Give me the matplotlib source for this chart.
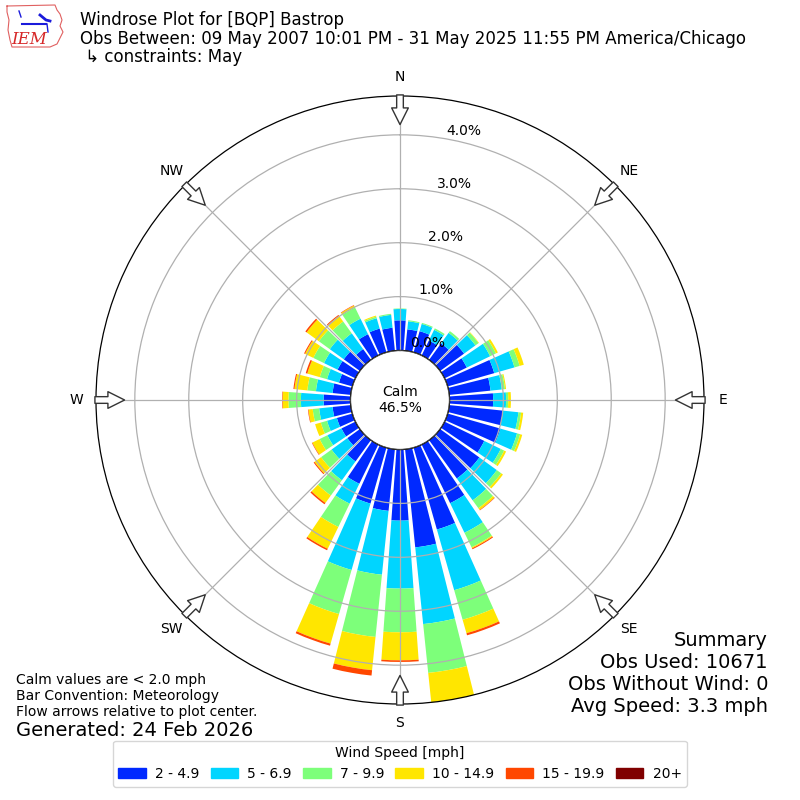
import numpy as np
import matplotlib
matplotlib.use("Agg")
import matplotlib.pyplot as plt
from matplotlib.patches import Rectangle, Circle
from matplotlib.lines import Line2D
from matplotlib.transforms import offset_copy

# wind direction bins (deg, met convention) and cumulative frequency (%) per speed bin
directions = np.arange(0, 360, 10)
speed_labels = ["2 - 4.9", "5 - 6.9", "7 - 9.9", "10 - 14.9", "15 - 19.9", "20+"]

cum_2_5 = [0.56, 0.40, 0.41, 0.31, 0.38, 0.55, 0.46, 0.90, 0.77, 0.81, 1.00, 1.02,
           0.82, 0.90, 0.88, 1.21, 1.58, 1.83, 1.32, 1.15, 1.08, 0.81, 0.49, 0.29,
           0.29, 0.30, 0.34, 0.50, 0.34, 0.26, 0.37, 0.37, 0.25, 0.44, 0.46, 0.43]
cum_5_7 = [0.77, 0.55, 0.55, 0.53, 0.62, 0.81, 0.94, 1.29, 0.98, 1.05, 1.29, 1.34,
           1.16, 1.30, 1.38, 1.82, 2.75, 3.26, 2.58, 2.34, 2.36, 1.22, 0.92, 0.65,
           0.58, 0.49, 0.59, 0.92, 0.65, 0.49, 0.65, 0.69, 0.61, 0.76, 0.66, 0.67]
cum_7_10 = [0.78, 0.57, 0.57, 0.56, 0.66, 0.88, 1.06, 1.39, 1.04, 1.09, 1.34, 1.40,
            1.23, 1.40, 1.56, 2.12, 3.32, 4.17, 3.39, 3.50, 3.21, 1.70, 1.27, 0.89,
            0.74, 0.61, 0.71, 1.15, 0.81, 0.63, 0.87, 0.94, 0.88, 0.99, 0.69, 0.69]
cum_10_15 = [0.78, 0.57, 0.57, 0.56, 0.66, 0.89, 1.10, 1.47, 1.06, 1.14, 1.38, 1.44,
             1.27, 1.44, 1.60, 2.14, 3.58, 4.85, 3.91, 4.12, 3.78, 2.15, 1.44, 1.04,
             0.89, 0.72, 0.79, 1.26, 1.05, 0.87, 1.04, 1.22, 1.01, 1.03, 0.71, 0.69]
cum_15_20 = [0.78, 0.57, 0.57, 0.56, 0.66, 0.89, 1.10, 1.47, 1.06, 1.14, 1.38, 1.44,
             1.27, 1.44, 1.61, 2.16, 3.62, 4.88, 3.94, 4.22, 3.82, 2.18, 1.47, 1.06,
             0.90, 0.72, 0.80, 1.27, 1.07, 0.90, 1.06, 1.25, 1.03, 1.04, 0.71, 0.69]
cum_20p = list(cum_15_20)

rticks = [0, 1, 2, 3, 4]
rmax = 4.72
calm_pct = 46.5
compass = ["N", "NE", "E", "SE", "S", "SW", "W", "NW"]
compass_deg = np.arange(0, 360, 45)
summary_lines = ["Summary", "Obs Used: 10671", "Obs Without Wind: 0", "Avg Speed: 3.3 mph"]

colors = plt.cm.jet(np.linspace(0, 1, 7)[1:])
cums = [cum_2_5, cum_5_7, cum_7_10, cum_10_15, cum_15_20, cum_20p]

fig = plt.figure(figsize=(8, 8), dpi=100)
ax = fig.add_axes([0.12, 0.12, 0.76, 0.76], projection="polar")
ax.set_theta_zero_location("N")
ax.set_theta_direction(-1)
ax.set_rorigin(-0.917)
ax.set_ylim(0, rmax)

theta = np.radians(directions)
prev = np.zeros(len(directions))
for i in range(6):
    top = np.array(cums[i])
    ax.bar(theta, top - prev, bottom=prev, width=np.radians(8.2),
           color=colors[i], edgecolor="none", zorder=1)
    prev = top

ax.set_axisbelow(False)
ax.set_thetagrids(compass_deg, labels=[""] * 8)
ax.set_rgrids(rticks, labels=[""] * 5)
ax.grid(True, color="#b0b0b0", lw=0.9)
ax.spines["polar"].set_linewidth(0.9)

# r labels
lab_tr = offset_copy(ax.transData, fig=fig, x=19, y=8, units="dots")
for r in rticks:
    ax.text(np.radians(9.7), r, "%.1f%%" % r, transform=lab_tr,
            ha="center", va="center", fontsize=10, zorder=5)

# calm circle
ax.add_patch(Circle((0.5, 0.5), 49.5 / 608, transform=ax.transAxes,
                    fc="white", ec="black", lw=1, zorder=4))
ax.text(0.5, 0.5, "Calm\n%.1f%%" % calm_pct, transform=ax.transAxes,
        ha="center", va="center", fontsize=10, zorder=5)

# compass labels and flow arrows
for lab, d in zip(compass, compass_deg):
    t = np.radians(d)
    ax.text(t, 5.08, lab, ha="center", va="center", fontsize=10, clip_on=False)
    ax.annotate("", xy=(t, 4.19), xytext=(t, 4.74), xycoords="data",
                annotation_clip=False,
                arrowprops=dict(arrowstyle="simple,head_length=1.2,head_width=1.2,tail_width=0.48",
                                mutation_scale=10, fc="white", ec="#333333", lw=1,
                                shrinkA=0, shrinkB=0))

# header
fig.text(0.1, 0.986, "Windrose Plot for [BQP] Bastrop\n"
         "Obs Between: 09 May 2007 10:01 PM - 31 May 2025 11:55 PM America/Chicago\n"
         " \u21b3 constraints: May", ha="left", va="top", fontsize=12, linespacing=1.03)

# IEM logo (rough)
px = lambda x, y: (x / 800, 1 - y / 800)
outline = [(7, 6), (55, 5), (57, 10), (60, 14), (62, 20), (60, 26), (63, 32), (60, 38),
           (57, 44), (50, 47), (12, 47), (10, 40), (8, 30), (9, 20), (7, 12), (7, 6)]
ox, oy = zip(*[px(*p) for p in outline])
fig.add_artist(Line2D(ox, oy, color="#e06060", lw=0.8))
bx, by = zip(*[px(22, 24), px(46, 24)])
fig.add_artist(Line2D(bx, by, color="#1a1adb", lw=1.5))
sx, sy = zip(*[px(40, 15), px(46, 20), px(50, 21)])
fig.add_artist(Line2D(sx, sy, color="#1a1adb", lw=2))
fig.add_artist(Line2D(*zip(*[px(19, 11), px(21, 17)]), color="#1a1adb", lw=1))
fig.add_artist(Line2D(*zip(*[px(47, 24), px(48, 32)]), color="#1a1adb", lw=1))
fig.text(px(29, 39)[0], px(29, 39)[1], "IEM", color="#d62728", fontsize=12,
         family="serif", style="italic", ha="center", va="center")

# footers
fig.text(0.02, 0.13, "Calm values are < 2.0 mph\nBar Convention: Meteorology\n"
         "Flow arrows relative to plot center.", ha="left", va="center", fontsize=10,
         linespacing=1.15)
fig.text(0.02, 0.087, "Generated: 24 Feb 2026", ha="left", va="center", fontsize=14)
for k, line in enumerate(summary_lines):
    fig.text(0.96, 1 - (641 + 22 * k) / 800, line, ha="right", va="center", fontsize=14)

handles = [Rectangle((0, 0), 1, 1, color=c) for c in colors]
fig.legend(handles, speed_labels, loc="lower center", ncol=6, title="Wind Speed [mph]",
           bbox_to_anchor=(0.5, 0.008), fontsize=10, title_fontsize=10,
           handlelength=2.0, columnspacing=0.8, handletextpad=0.65)

fig.savefig("out.png", dpi=100)
